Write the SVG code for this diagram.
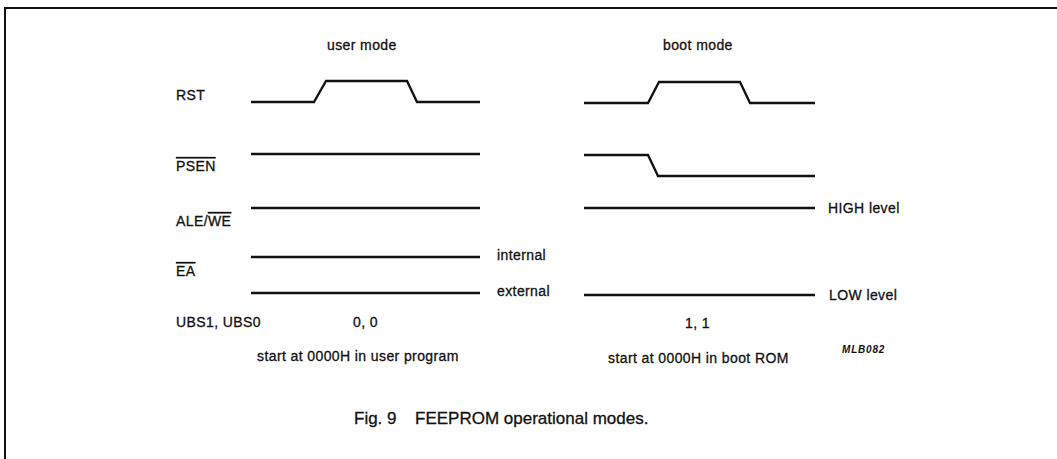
<svg xmlns="http://www.w3.org/2000/svg" width="1057" height="459" viewBox="0 0 1057 459">
<style>
.t{font-family:"Liberation Sans",Arial,sans-serif;font-size:14px;fill:#111;stroke:#111;stroke-width:0.3px;letter-spacing:0.4px}
.w{fill:none;stroke:#111;stroke-width:2.3;stroke-linejoin:miter}
.ov{text-decoration:overline}
.cap{font-family:"Liberation Sans",Arial,sans-serif;font-size:17px;fill:#111;stroke:#111;stroke-width:0.3px}
.code{font-family:"Liberation Sans",Arial,sans-serif;font-size:10px;font-weight:bold;font-style:italic;fill:#111;letter-spacing:0.8px}
</style>
<rect width="1057" height="459" fill="#fff"/>
<path d="M5,459 V8 H1057" fill="none" stroke="#111" stroke-width="2"/>
<g id="headings">
<text class="t" x="327" y="50">user mode</text>
<text class="t" x="663" y="50">boot mode</text>
</g>
<g id="label-rst"><text class="t" x="176" y="100">RST</text></g>
<g id="label-psen"><text class="t" x="176" y="171"><tspan class="ov">PSEN</tspan></text></g>
<g id="label-ale"><text class="t" x="176" y="226">ALE/<tspan class="ov">WE</tspan></text></g>
<g id="label-ea"><text class="t" x="176" y="276"><tspan class="ov">EA</tspan></text></g>
<g id="label-ubs"><text class="t" x="176" y="327">UBS1, UBS0</text></g>
<g id="connectors">
<path class="w" d="M251,102 H314 L326,81 H407 L417,102 H480"/>
<path class="w" d="M251,154 H480"/>
<path class="w" d="M251,208 H480"/>
<path class="w" d="M251,257 H480"/>
<path class="w" d="M251,293 H480"/>
<path class="w" d="M584,103 H648 L659,82 H740 L750,103 H815"/>
<path class="w" d="M584,155 H648 L658,176 H815"/>
<path class="w" d="M584,208 H815"/>
<path class="w" d="M584,295 H815"/>
</g>
<g id="level-labels">
<text class="t" x="497" y="260">internal</text>
<text class="t" x="497" y="296">external</text>
<text class="t" x="828" y="213">HIGH level</text>
<text class="t" x="829" y="300">LOW level</text>
</g>
<g id="user-values">
<text class="t" x="353" y="327">0, 0</text>
<text class="t" x="257" y="361">start at 0000H in user program</text>
</g>
<g id="boot-values">
<text class="t" x="685" y="328">1, 1</text>
<text class="t" x="608" y="363">start at 0000H in boot ROM</text>
<text class="code" x="842" y="353">MLB082</text>
</g>
<g id="caption">
<text class="cap" y="424"><tspan x="354">Fig. 9</tspan><tspan x="415">FEEPROM operational modes.</tspan></text>
</g>
</svg>
